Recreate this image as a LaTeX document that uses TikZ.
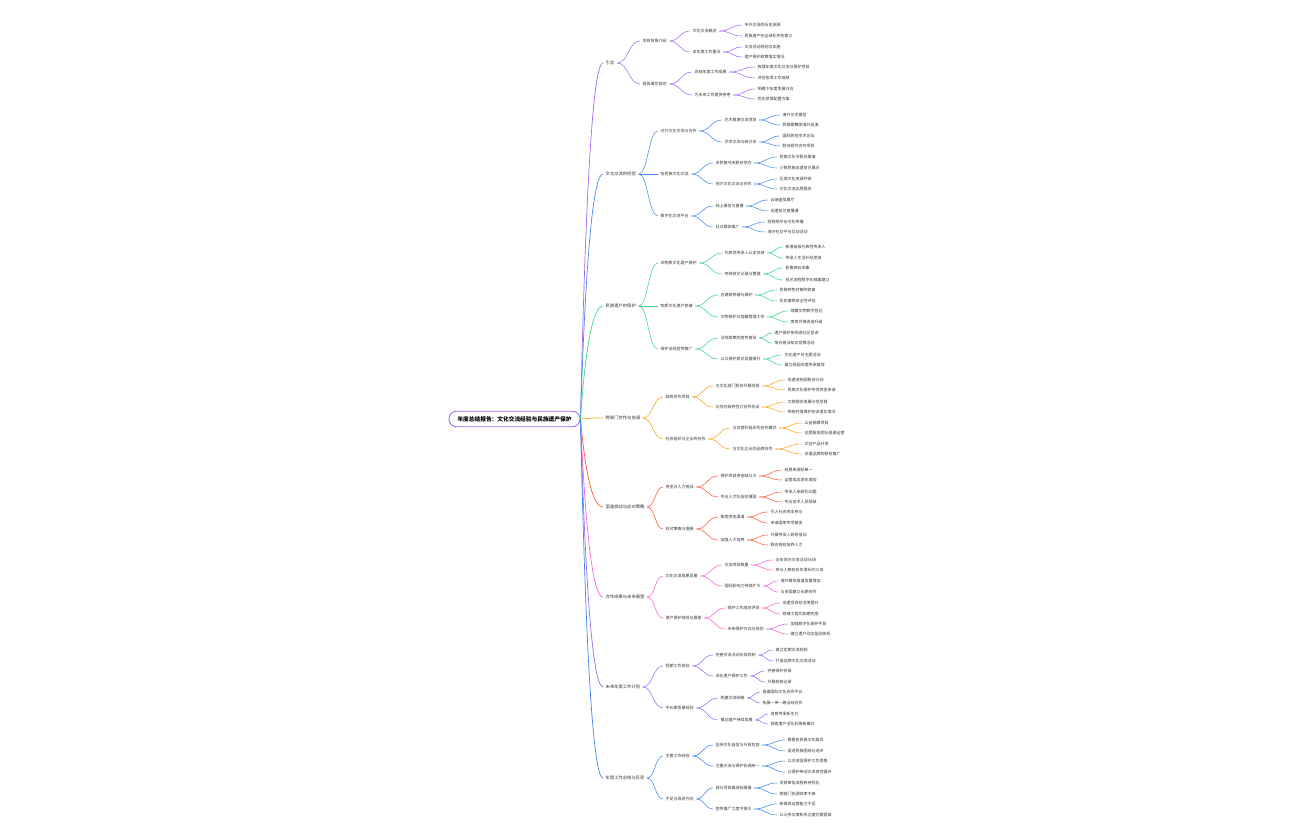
\documentclass[tikz,border=0pt]{standalone}
\usepackage{fontspec}
\setmainfont{Noto Sans CJK SC}
\usetikzlibrary{calc}
\definecolor{c1}{HTML}{A46CF2}
\definecolor{c2}{HTML}{4A8AF4}
\definecolor{c3}{HTML}{3DD68C}
\definecolor{c4}{HTML}{F5A623}
\definecolor{c5}{HTML}{FF5A3C}
\definecolor{c6}{HTML}{F266D9}
\definecolor{c7}{HTML}{9F6BF2}
\definecolor{c8}{HTML}{3E86F5}
\definecolor{txt}{HTML}{333333}
\tikzset{
  t/.style={font=\fontsize{4}{4.8}\selectfont, text=txt, inner xsep=2.5pt, inner ysep=1pt, anchor=west},
  tl/.style={font=\fontsize{4.3}{5.2}\selectfont, text=txt, inner xsep=2.5pt, inner ysep=1pt, anchor=west},
  rootbox/.style={draw=c1, line width=0.9pt, fill=white, rounded corners=7.5pt, minimum width=131pt, minimum height=15.5pt, inner sep=0pt, font=\fontsize{5.7}{6.5}\selectfont\bfseries},
  sub/.style={line width=0.55pt, to path={let \p1=(\tikztostart), \p2=(\tikztotarget) in .. controls ({0.5*\x1+0.5*\x2},\y1) and ({0.5*\x1+0.5*\x2},\y2) .. (\tikztotarget)}},
  mainl/.style={line width=0.7pt, to path={let \p1=(\tikztostart), \p2=(\tikztotarget) in .. controls ({\x1+5.3pt},{0.333*\y1+0.667*\y2}) and ({0.333*\x2+0.667*\x1+5.3pt},\y2) .. (\tikztotarget)}}
}
\newcommand\kid[5]{\node[t] (#2) at (#3,#4) {#5}; \draw[sub,draw=\curc] (#1.east) to (#2.west);}
\newcommand\topic[4]{\node[tl] (#1) at (#2,#3) {#4}; \draw[mainl,draw=\curc] (root.east) to (#1.west);}
\begin{document}
\begin{tikzpicture}[x=1pt,y=-1pt]
\fill[white] (0,0) rectangle (1296,840);
\useasboundingbox (0,0) rectangle (1296,840);
\node[rootbox] (root) at (514.5,419) {年度总结报告：文化交流经验与民族遗产保护};

% Branch 1
\def\curc{c1}
\topic{b1}{603}{63}{引言}
\kid{b1}{b1a}{640}{41}{项目背景介绍}
\kid{b1a}{b1aa}{690}{31}{文化交流概述}
\kid{b1aa}{b1aa1}{742}{25}{中外交流的历史渊源}
\kid{b1aa}{b1aa2}{742}{36}{民族遗产在全球化中的意义}
\kid{b1a}{b1ab}{690}{52}{本年度工作重点}
\kid{b1ab}{b1ab1}{742}{47}{交流活动规划与实施}
\kid{b1ab}{b1ab2}{742}{57}{遗产保护政策落实情况}
\kid{b1}{b1b}{640}{84}{报告编写目的}
\kid{b1b}{b1ba}{692}{72}{总结年度工作成果}
\kid{b1ba}{b1ba1}{755}{67}{梳理年度文化交流与保护项目}
\kid{b1ba}{b1ba2}{755}{78}{评估各项工作成效}
\kid{b1b}{b1bb}{692}{95}{为未来工作提供参考}
\kid{b1bb}{b1bb1}{755}{89}{明确下年度发展方向}
\kid{b1bb}{b1bb2}{755}{99}{优化资源配置方案}

% Branch 2
\def\curc{c2}
\topic{b2}{603}{174}{文化交流的经验}
\kid{b2}{b2a}{658}{131}{对外文化交流与合作}
\kid{b2a}{b2aa}{722}{120}{艺术展演交流项目}
\kid{b2aa}{b2aa1}{780}{115}{海外艺术展览}
\kid{b2aa}{b2aa2}{780}{125}{民族歌舞团海外巡演}
\kid{b2a}{b2ab}{722}{142}{学术交流与研讨会}
\kid{b2ab}{b2ab1}{780}{136}{国际民俗学术论坛}
\kid{b2ab}{b2ab2}{780}{146}{联合研究合作项目}
\kid{b2}{b2b}{658}{174}{各民族文化交流}
\kid{b2b}{b2ba}{713}{163}{多民族节庆联合举办}
\kid{b2ba}{b2ba1}{777}{157}{民族文化节联合展演}
\kid{b2ba}{b2ba2}{777}{168}{少数民族非遗技艺展示}
\kid{b2b}{b2bb}{713}{184}{地方文化交流与合作}
\kid{b2bb}{b2bb1}{777}{179}{区域文化资源共享}
\kid{b2bb}{b2bb2}{777}{189}{文化交流志愿服务}
\kid{b2}{b2c}{658}{216}{数字化交流平台}
\kid{b2c}{b2ca}{713}{206}{线上展览与直播}
\kid{b2ca}{b2ca1}{768}{200}{云端虚拟展厅}
\kid{b2ca}{b2ca2}{768}{211}{非遗技艺直播课}
\kid{b2c}{b2cb}{713}{227}{社交媒体推广}
\kid{b2cb}{b2cb1}{765}{222}{短视频平台文化传播}
\kid{b2cb}{b2cb2}{765}{232}{海外社交平台互动活动}

% Branch 3
\def\curc{c3}
\topic{b3}{603}{306}{民族遗产的保护}
\kid{b3}{b3a}{658}{263}{非物质文化遗产保护}
\kid{b3a}{b3aa}{722}{253}{代表性传承人认定扶持}
\kid{b3aa}{b3aa1}{783}{247}{新增省级代表性传承人}
\kid{b3aa}{b3aa2}{783}{258}{传承人生活补贴发放}
\kid{b3a}{b3ab}{722}{274}{传统技艺记录与整理}
\kid{b3ab}{b3ab1}{783}{268}{影像资料采集}
\kid{b3ab}{b3ab2}{783}{280}{技艺流程数字化档案建立}
\kid{b3}{b3b}{658}{306}{物质文化遗产修缮}
\kid{b3b}{b3ba}{718}{295}{古建筑修缮与维护}
\kid{b3ba}{b3ba1}{777}{290}{民族特色村寨的修复}
\kid{b3ba}{b3ba2}{777}{301}{历史建筑安全性评估}
\kid{b3b}{b3bb}{718}{317}{文物保护与馆藏管理工作}
\kid{b3bb}{b3bb1}{788}{311}{馆藏文物数字登记}
\kid{b3bb}{b3bb2}{788}{322}{库房环境改造升级}
\kid{b3}{b3c}{658}{349}{保护法规宣传推广}
\kid{b3c}{b3ca}{718}{338}{法规政策的宣传普及}
\kid{b3ca}{b3ca1}{772}{333}{遗产保护条例进社区宣讲}
\kid{b3ca}{b3ca2}{772}{343}{举办普法知识竞赛活动}
\kid{b3c}{b3cb}{718}{359}{公众保护意识显著提升}
\kid{b3cb}{b3cb1}{782}{355}{文化遗产日主题活动}
\kid{b3cb}{b3cb2}{782}{365}{建立校园非遗传承基地}

% Branch 4
\def\curc{c4}
\topic{b4}{603}{418}{跨部门合作与协调}
\kid{b4}{b4a}{663}{397}{政府合作项目}
\kid{b4a}{b4aa}{713}{386}{与文化部门联合开展项目}
\kid{b4aa}{b4aa1}{785}{380}{非遗进校园联合行动}
\kid{b4aa}{b4aa2}{785}{390}{民族文化保护专项资金申请}
\kid{b4a}{b4ab}{713}{407}{与地方政府签订合作协议}
\kid{b4ab}{b4ab1}{785}{402}{文旅融合发展示范项目}
\kid{b4ab}{b4ab2}{785}{412}{传统村落保护协议落实情况}
\kid{b4}{b4b}{663}{439}{社会组织与企业的合作}
\kid{b4b}{b4ba}{730}{428}{与非营利组织的合作模式}
\kid{b4ba}{b4ba1}{802}{423}{公益捐赠项目}
\kid{b4ba}{b4ba2}{802}{433}{志愿服务团队组建运营}
\kid{b4b}{b4bb}{730}{449}{与文化企业的品牌合作}
\kid{b4bb}{b4bb1}{802}{444}{文创产品开发}
\kid{b4bb}{b4bb2}{802}{454}{非遗品牌的联名推广}

% Branch 5
\def\curc{c5}
\topic{b5}{603}{507}{面临挑战与应对策略}
\kid{b5}{b5a}{663}{487}{资金与人力挑战}
\kid{b5a}{b5aa}{718}{476}{保护项目资金缺口大}
\kid{b5aa}{b5aa1}{782}{470}{经费来源较单一}
\kid{b5aa}{b5aa2}{782}{480}{运营成本逐年增加}
\kid{b5a}{b5ab}{718}{497}{专业人才队伍较薄弱}
\kid{b5ab}{b5ab1}{782}{492}{传承人老龄化问题}
\kid{b5ab}{b5ab2}{782}{502}{专业技术人员短缺}
\kid{b5}{b5b}{663}{529}{应对策略与措施}
\kid{b5b}{b5ba}{718}{517}{拓宽资金渠道}
\kid{b5ba}{b5ba1}{768}{512}{引入社会资本参与}
\kid{b5ba}{b5ba2}{768}{523}{申请国家专项基金}
\kid{b5b}{b5bb}{718}{540}{加强人才培养}
\kid{b5bb}{b5bb1}{768}{535}{开展传承人研修培训}
\kid{b5bb}{b5bb2}{768}{545}{联合高校培养人才}

% Branch 6
\def\curc{c6}
\topic{b6}{603}{597}{合作成果与未来展望}
\kid{b6}{b6a}{663}{576}{文化交流成果显著}
\kid{b6a}{b6aa}{722}{565}{交流项目数量}
\kid{b6aa}{b6aa1}{773}{560}{全年举办交流活动56场}
\kid{b6aa}{b6aa2}{773}{570}{参与人数较去年增长约三成}
\kid{b6a}{b6ab}{722}{586}{国际影响力持续扩大}
\kid{b6ab}{b6ab1}{778}{581}{海外媒体报道显著增加}
\kid{b6ab}{b6ab2}{778}{592}{与多国建立长期合作}
\kid{b6}{b6b}{663}{618}{遗产保护成效与展望}
\kid{b6b}{b6ba}{725}{608}{保护工作成效评估}
\kid{b6ba}{b6ba1}{780}{603}{非遗项目存活率提升}
\kid{b6ba}{b6ba2}{780}{614}{修缮工程均如期完成}
\kid{b6b}{b6bb}{725}{629}{未来保护方向与规划}
\kid{b6bb}{b6bb1}{788}{624}{加强数字化保护手段}
\kid{b6bb}{b6bb2}{788}{634}{建立遗产动态监测体系}

% Branch 7
\def\curc{c7}
\topic{b7}{603}{687}{未来年度工作计划}
\kid{b7}{b7a}{663}{666}{短期工作目标}
\kid{b7a}{b7aa}{713}{655}{完善交流活动长效机制}
\kid{b7aa}{b7aa1}{773}{650}{建立定期交流机制}
\kid{b7aa}{b7aa2}{773}{661}{打造品牌文化交流活动}
\kid{b7a}{b7ab}{713}{676}{深化遗产保护工作}
\kid{b7ab}{b7ab1}{765}{671}{完善保护名录}
\kid{b7ab}{b7ab2}{765}{682}{开展抢救记录}
\kid{b7}{b7b}{663}{708}{中长期发展规划}
\kid{b7b}{b7ba}{718}{698}{构建交流网络}
\kid{b7ba}{b7ba1}{760}{692}{搭建国际文化合作平台}
\kid{b7ba}{b7ba2}{760}{703}{拓展一带一路沿线合作}
\kid{b7b}{b7bb}{718}{720}{推动遗产持续发展}
\kid{b7bb}{b7bb1}{768}{714}{培育传承新生代}
\kid{b7bb}{b7bb2}{768}{724}{探索遗产活化利用新模式}

% Branch 8
\def\curc{c8}
\topic{b8}{603}{778}{年度工作总结与反思}
\kid{b8}{b8a}{663}{756}{主要工作经验}
\kid{b8a}{b8aa}{713}{745}{坚持文化自信与开放包容}
\kid{b8aa}{b8aa1}{785}{740}{尊重各民族文化差异}
\kid{b8aa}{b8aa2}{785}{751}{促进民族团结与进步}
\kid{b8a}{b8ab}{713}{766}{注重交流与保护协调统一}
\kid{b8ab}{b8ab1}{785}{761}{以交流促保护工作思路}
\kid{b8ab}{b8ab2}{785}{772}{以保护带动交流良性循环}
\kid{b8}{b8b}{663}{799}{不足与改进方向}
\kid{b8b}{b8ba}{713}{788}{部分项目推进较缓慢}
\kid{b8ba}{b8ba1}{777}{783}{项目审批流程有待优化}
\kid{b8ba}{b8ba2}{777}{794}{跨部门协调效率不高}
\kid{b8b}{b8bb}{713}{809}{宣传推广力度不够大}
\kid{b8bb}{b8bb1}{777}{804}{新媒体运营能力不足}
\kid{b8bb}{b8bb2}{777}{815}{公众参与度和关注度仍需提高}
\end{tikzpicture}
\end{document}
